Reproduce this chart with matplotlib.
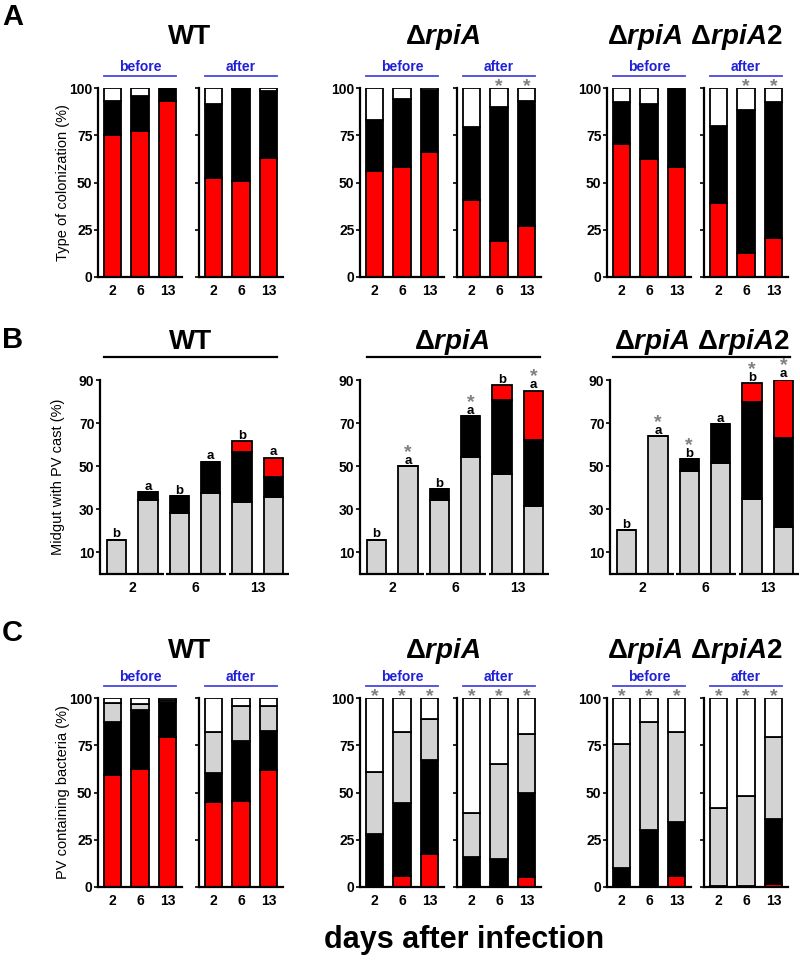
import numpy as np
import matplotlib
matplotlib.use('Agg')
import matplotlib.pyplot as plt

plt.rcParams['font.family'] = ['Liberation Sans', 'DejaVu Sans']
plt.rcParams['mathtext.fontset'] = 'custom'
plt.rcParams['mathtext.rm'] = 'Liberation Sans:bold'
plt.rcParams['mathtext.it'] = 'Liberation Sans:italic:bold'
plt.rcParams['mathtext.bf'] = 'Liberation Sans:bold'

days = ['2', '6', '13']
strains = ['WT', r'$\Delta\mathit{rpiA}$', r'$\Delta\mathit{rpiA}\ \Delta\mathit{rpiA2}$']

# ---- A: type of colonization (%), rows = red, black, white ; cols = day 2, 6, 13
A_WT_before = [[75, 77, 93], [18, 19, 7], [7, 4, 0]]
A_WT_after = [[52.5, 51, 63], [39, 48.5, 35.5], [8.5, 0.5, 1.5]]
A_rpiA_before = [[56, 58, 66], [27, 36, 33], [17, 6, 1]]
A_rpiA_after = [[41, 19, 27], [38.5, 71, 66], [20.5, 10, 7]]
A_rpiA2_before = [[70.5, 62.5, 58], [22, 29, 42], [7.5, 8.5, 0]]
A_rpiA2_after = [[39, 12.5, 20.5], [41, 76, 72], [20, 11.5, 7.5]]
A_stars_before = [[0, 0, 0], [0, 0, 0], [0, 0, 0]]
A_stars_after = [[0, 0, 0], [0, 1, 1], [0, 1, 1]]

# ---- B: midgut with PV cast (%), rows = grey, black, red ; 6 bars (day 2,6,13 x before/after)
B_WT = [[16, 34.5, 28.5, 37.5, 33.5, 35.5], [0, 3.5, 7.5, 14.5, 23, 9.5], [0, 0, 0, 0, 5, 9]]
B_rpiA = [[16, 50, 34.5, 54.5, 46.5, 31.5], [0, 0, 4.8, 18.7, 34, 30.5], [0, 0, 0, 0, 7, 23]]
B_rpiA2 = [[20.3, 64, 47.7, 51.7, 34.7, 21.6], [0, 0, 5.5, 17.8, 45, 41.7], [0, 0, 0, 0, 8.7, 26.8]]
B_letters = [['b', 'a', 'b', 'a', 'b', 'a'],
             ['b', 'a', 'b', 'a', 'b', 'a'],
             ['b', 'a', 'b', 'a', 'b', 'a']]
B_stars = [[0, 0, 0, 0, 0, 0],
           [0, 1, 0, 1, 0, 1],
           [0, 1, 1, 0, 1, 1]]

# ---- C: PV containing bacteria (%), rows = red, black, grey, white
C_WT_before = [[59.5, 62.5, 79.5], [28, 31, 18.5], [10, 3.5, 1.2], [2.5, 3, 0.8]]
C_WT_after = [[45, 45.5, 62], [15.5, 31.5, 20.5], [21.5, 18.7, 13.2], [18, 4.3, 4.3]]
C_rpiA_before = [[0, 6, 17.5], [28, 38.5, 49.5], [33, 37.5, 22], [39, 18, 11]]
C_rpiA_after = [[0.5, 0, 5.5], [15.5, 15, 44.5], [23, 50, 31], [61, 35, 19]]
C_rpiA2_before = [[0, 0, 6], [10, 30, 28.5], [65.5, 57.5, 47.5], [24.5, 12.5, 18]]
C_rpiA2_after = [[0, 0, 1.5], [0.5, 0.5, 34.5], [41.5, 47.8, 43.5], [58, 51.7, 20.5]]
C_stars_before = [[0, 0, 0], [1, 1, 1], [1, 1, 1]]
C_stars_after = [[0, 0, 0], [1, 1, 1], [1, 1, 1]]

RED = '#ff0000'
GREY = '#d3d3d3'
BLUE = '#2020d8'
LINEBLUE = '#4848e0'
STAR = '#808080'

W, H = 800, 966
fig = plt.figure(figsize=(W / 100, H / 100), dpi=100)


def px_axes(left, top, width, height):
    return fig.add_axes([left / W, 1 - (top + height) / H, width / W, height / H])


def ftext(x, y, s, **kw):
    fig.text(x / W, 1 - y / H, s, **kw)


def fline(x0, x1, y, color, lw):
    fig.add_artist(plt.Line2D([x0 / W, x1 / W], [1 - y / H, 1 - y / H],
                              color=color, lw=lw, transform=fig.transFigure))


def star(ax, x, y, dy):
    # asterisk glyph sits high in its box, so place by baseline
    ax.annotate('*', (x, y), xytext=(0, dy), textcoords='offset points',
                ha='center', va='baseline', fontsize=14, color=STAR,
                fontweight='bold', annotation_clip=False)


def style(ax, labels=True):
    for s in ['top', 'right']:
        ax.spines[s].set_visible(False)
    for s in ['left', 'bottom']:
        ax.spines[s].set_linewidth(1.6)
    ax.tick_params(axis='y', length=3, width=1.2, labelsize=10, pad=1, labelleft=labels)
    ax.tick_params(axis='x', length=0, labelsize=10, pad=5)
    for t in ax.get_xticklabels() + ax.get_yticklabels():
        t.set_fontweight('bold')


def stacked(ax, segs, colors, stars):
    x = np.arange(3)
    bottom = np.zeros(3)
    for vals, c in zip(segs, colors):
        vals = np.array(vals, dtype=float)
        ax.bar(x, vals, 0.64, bottom=bottom, color=c, edgecolor='black', linewidth=1.3)
        bottom += vals
    for xi, st in zip(x, stars):
        if st:
            star(ax, xi, 100, -2.0)
    ax.set_xlim(-0.53, 2.53)
    ax.set_ylim(0, 100)
    ax.set_yticks([0, 25, 50, 75, 100])
    ax.set_xticks(x)
    ax.set_xticklabels(days)


lefts = [(98, 199), (360, 457), (607, 704)]
title_x = [190, 443, 695]


def stacked_panel(top, height, befores, afters, colors, stars_b, stars_a, title_y, label_y, ylab):
    for i in range(3):
        lb, la = lefts[i]
        ax1 = px_axes(lb, top, 84, height)
        stacked(ax1, befores[i], colors, stars_b[i])
        style(ax1)
        ax2 = px_axes(la, top, 84, height)
        stacked(ax2, afters[i], colors, stars_a[i])
        style(ax2, labels=False)
        ftext(title_x[i], title_y, strains[i], ha='center', va='center',
              fontsize=20, fontweight='bold')
        for l, name in [(lb, 'before'), (la, 'after')]:
            x0, x1 = l + 6, l + 78
            ftext((x0 + x1) / 2, label_y, name, ha='center', va='center',
                  fontsize=10, fontweight='bold', color=BLUE)
            fline(x0, x1, label_y + 9, LINEBLUE, 1.3)
    ftext(63, top + height / 2, ylab, rotation=90, ha='center', va='center', fontsize=10.5)


# ---- panel A
stacked_panel(88, 189,
              [A_WT_before, A_rpiA_before, A_rpiA2_before],
              [A_WT_after, A_rpiA_after, A_rpiA2_after],
              [RED, 'black', 'white'], A_stars_before, A_stars_after,
              37, 67, 'Type of colonization (%)')

# ---- panel C
stacked_panel(698, 189,
              [C_WT_before, C_rpiA_before, C_rpiA2_before],
              [C_WT_after, C_rpiA_after, C_rpiA2_after],
              [RED, 'black', GREY, 'white'], C_stars_before, C_stars_after,
              651, 677, 'PV containing bacteria (%)')

# ---- panel B
B_all = [B_WT, B_rpiA, B_rpiA2]
B_lefts = [100, 360, 610]
B_lines = [(104, 277), (367, 540), (613, 790)]
B_title_x = [191, 452, 702]
for i in range(3):
    ax = px_axes(B_lefts[i], 380, 190, 194)
    x = np.arange(6)
    bottom = np.zeros(6)
    for vals, c in zip(B_all[i], [GREY, 'black', RED]):
        vals = np.array(vals, dtype=float)
        ax.bar(x, vals, 0.62, bottom=bottom, color=c, edgecolor='black', linewidth=1.3)
        bottom += vals
    for xi, top_v, let, st in zip(x, bottom, B_letters[i], B_stars[i]):
        ax.annotate(let, (xi, top_v), xytext=(0, 1.8), textcoords='offset points',
                    ha='center', va='baseline', fontsize=9.5, fontweight='bold',
                    annotation_clip=False)
        if st:
            star(ax, xi, top_v, 6.8)
    ax.set_xlim(-0.52, 5.52)
    ax.set_ylim(0, 90)
    ax.set_yticks([10, 30, 50, 70, 90])
    ax.set_xticks([0.5, 2.5, 4.5])
    ax.set_xticklabels(days)
    style(ax)
    ax.spines['bottom'].set_visible(False)
    for k in range(3):
        x0 = -0.52 if k == 0 else 2 * k - 0.42
        ax.plot([x0, 2 * k + 1.5], [0, 0], color='black', lw=1.6,
                clip_on=False, solid_capstyle='butt')
    ftext(B_title_x[i], 342, strains[i], ha='center', va='center',
          fontsize=20, fontweight='bold')
    fline(B_lines[i][0], B_lines[i][1], 357, 'black', 1.6)
ftext(58, 477, 'Midgut with PV cast (%)', rotation=90, ha='center', va='center', fontsize=10.5)

# ---- panel letters and common x label
ftext(2, 17, 'A', ha='left', va='center', fontsize=21, fontweight='bold')
ftext(2, 340, 'B', ha='left', va='center', fontsize=21, fontweight='bold')
ftext(2, 633, 'C', ha='left', va='center', fontsize=21, fontweight='bold')
ftext(464, 940, 'days after infection', ha='center', va='center', fontsize=22, fontweight='bold')

fig.savefig('out.png', dpi=100)
